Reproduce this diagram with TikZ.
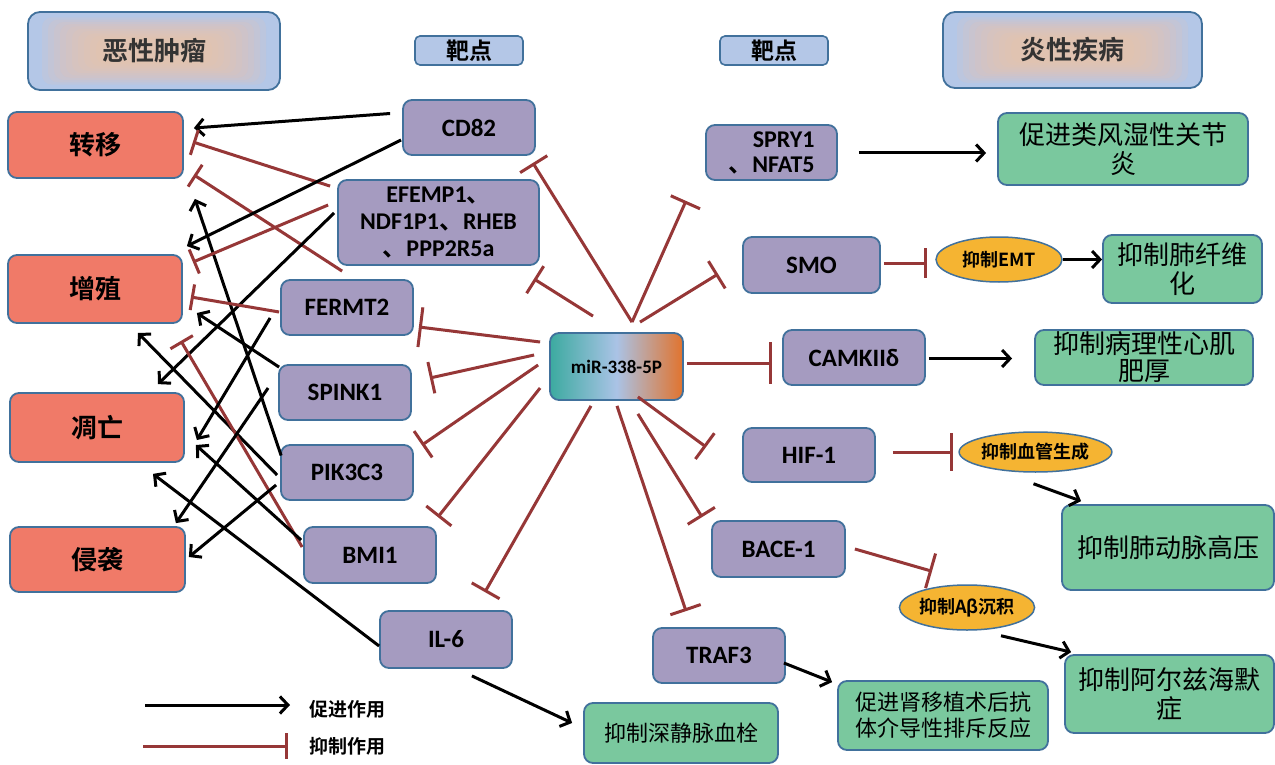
\documentclass[tikz,border=0pt]{standalone}
\usepackage{fontspec}
\setmainfont{Carlito}
\newfontfamily\cjk{Noto Sans CJK SC}[BoldFont={Noto Sans CJK SC Bold}]
\usetikzlibrary{arrows.meta,calc,shapes.geometric}
\definecolor{bd}{HTML}{41719C}
\definecolor{pur}{HTML}{A59BC0}
\definecolor{sal}{HTML}{F07A68}
\definecolor{grn}{HTML}{7AC89E}
\definecolor{org}{HTML}{F5B432}
\definecolor{inr}{HTML}{963737}
\definecolor{hblue}{HTML}{B4C7E7}
\definecolor{peach}{HTML}{F3C3A3}
\definecolor{teal}{HTML}{3CAAA0}
\definecolor{lblue}{HTML}{AAC3E6}
\definecolor{orng}{HTML}{E1732D}
\newcommand\mydun{{\cjk\bfseries 、}}
\tikzset{
  box/.style={draw=bd, line width=1.8pt, rounded corners=9pt, inner sep=2pt, align=center},
  tgtbox/.style={box, fill=pur, font=\bfseries\fontsize{25}{28}\selectfont},
  resbox/.style={box, fill=sal, font=\cjk\bfseries\fontsize{26}{30}\selectfont},
  greenbox/.style={box, fill=grn, font=\cjk\fontsize{26}{29}\selectfont},
  hdrbox/.style={draw=bd, line width=1.8pt, rounded corners=12pt, font=\cjk\bfseries\fontsize{26}{30}\selectfont, text=black!80},
  hdrlayer/.style={fill=peach, opacity=0.13, rounded corners=10pt},
  labbox/.style={draw=bd, line width=1.6pt, rounded corners=5pt, fill=hblue, font=\cjk\bfseries\fontsize{23}{26}\selectfont},
  ellbox/.style={ellipse, draw=bd, line width=1.5pt, fill=org, inner sep=0pt, font=\cjk\bfseries\fontsize{18}{20}\selectfont},
  pro/.style={draw=black, line width=3pt, -{Straight Barb[length=8pt,width=17pt]}},
  inh/.style={draw=inr, line width=3pt, -{Bar[width=#1]}},
  inh/.default=32pt,
  legtext/.style={anchor=west, font=\cjk\bfseries\fontsize{19}{22}\selectfont}
}
\begin{document}
\begin{tikzpicture}[x=1pt,y=-1pt]
\useasboundingbox (0,0) rectangle (1275,765);
\fill[white] (0,0) rectangle (1275,765);

% header shading (blue edges, peach centre)
\fill[hblue, rounded corners=12pt] (28,12) rectangle (280,90);
\foreach \i in {1,...,10}
  \fill[hdrlayer] ({28+8+6*\i},{12+3+2.3*\i}) rectangle ({280-8-6*\i},{90-3-2.3*\i});
\fill[hblue, rounded corners=12pt] (943,12) rectangle (1202,88);
\foreach \i in {1,...,10}
  \fill[hdrlayer] ({943+8+6*\i},{12+3+2.2*\i}) rectangle ({1202-8-6*\i},{88-3-2.2*\i});

% headers
\node[hdrbox, minimum width=252, minimum height=78] (hdrL) at (154,51) {恶性肿瘤};
\node[hdrbox, minimum width=259, minimum height=76] (hdrR) at (1072.5,50) {炎性疾病};
\node[labbox, minimum width=108, minimum height=29, inner sep=0pt] (labL) at (469,50.5) {靶点};
\node[labbox, minimum width=108, minimum height=29, inner sep=0pt] (labR) at (774,50.5) {靶点};

% result boxes (left)
\node[resbox, minimum width=175, minimum height=66] (zy) at (95.5,145) {转移};
\node[resbox, minimum width=174, minimum height=68] (zz) at (95,289) {增殖};
\node[resbox, minimum width=174, minimum height=69] (dw) at (97,427.5) {凋亡};
\node[resbox, minimum width=175, minimum height=65] (qx) at (97.5,559.5) {侵袭};

% targets
\node[tgtbox, minimum width=132, minimum height=55] (cd82) at (469,127.5) {CD82};
\node[tgtbox, minimum width=201, minimum height=85, font=\bfseries\fontsize{24}{27}\selectfont] (efemp) at (438.5,222.5) {EFEMP1\mydun\\NDF1P1\mydun RHEB\\\mydun PPP2R5a};
\node[tgtbox, minimum width=132, minimum height=55] (fermt2) at (347,307.5) {FERMT2};
\node[tgtbox, minimum width=132, minimum height=55] (spink1) at (345,392.5) {SPINK1};
\node[tgtbox, minimum width=132, minimum height=55] (pik3c3) at (347,472.5) {PIK3C3};
\node[tgtbox, minimum width=132, minimum height=56] (bmi1) at (370,555) {BMI1};
\node[tgtbox, minimum width=132, minimum height=57] (il6) at (446,639.5) {IL-6};

\node[box, minimum width=133, minimum height=67, left color=teal, right color=orng, middle color=lblue, font=\bfseries\fontsize{19}{22}\selectfont] (mir) at (616.5,366.5) {miR-338-5P};

\node[tgtbox, minimum width=131, minimum height=55, align=right, inner sep=0pt, font=\bfseries\fontsize{24}{25}\selectfont] (spry) at (771.5,152.5) {SPRY1\\\mydun NFAT5};
\node[tgtbox, minimum width=137, minimum height=56] (smo) at (811.5,265) {SMO};
\node[tgtbox, minimum width=142, minimum height=55] (camk) at (854,357.5) {CAMKIIδ};
\node[tgtbox, minimum width=132, minimum height=54] (hif) at (809,455) {HIF-1};
\node[tgtbox, minimum width=133, minimum height=56] (bace) at (778.5,549) {BACE-1};
\node[tgtbox, minimum width=132, minimum height=55] (traf3) at (719,655.5) {TRAF3};

% outcomes right
\node[greenbox, minimum width=250, minimum height=72] (ra) at (1123,149) {促进类风湿性关节\\炎};
\node[ellbox, minimum width=126, minimum height=45] (emt) at (999,259.5) {抑制EMT};
\node[greenbox, minimum width=159, minimum height=68] (lung) at (1182.5,269) {抑制肺纤维\\化};
\node[greenbox, minimum width=218, minimum height=55, inner sep=0pt, font=\cjk\fontsize{26}{27}\selectfont] (heart) at (1144,357.5) {抑制病理性心肌\\肥厚};
\node[ellbox, minimum width=139, minimum height=40] (angio) at (1035.5,452) {抑制血管生成};
\node[greenbox, minimum width=212, minimum height=85] (pah) at (1168,547.5) {抑制肺动脉高压};
\node[ellbox, minimum width=126, minimum height=45] (abeta) at (967,607.5) {抑制Aβ沉积};
\node[greenbox, minimum width=209, minimum height=78] (alz) at (1169.5,694) {抑制阿尔兹海默\\症};
\node[greenbox, minimum width=210, minimum height=69, font=\cjk\fontsize{22}{26}\selectfont] (kidney) at (943,715.5) {促进肾移植术后抗\\体介导性排斥反应};
\node[greenbox, minimum width=194, minimum height=60, font=\cjk\fontsize{22}{26}\selectfont] (dvt) at (681,733) {抑制深静脉血栓};

% left connectors
\draw[pro] ($(cd82.west)+(-12,-14)$) -- ($(zy.east)+(10,-17)$);
\draw[inh=26pt] ($(efemp.north west)+(-7,7)$) -- ($(zy.east)+(9,-3)$);
\draw[inh=26pt] ($(fermt2.north west)+(62,-8)$) -- ($(zy.south east)+(10,-4)$);
\draw[pro] ($(pik3c3.west)+(1,-17)$) -- ($(zy.south east)+(11,20)$);
\draw[pro] ($(cd82.west)+(-1,12.5)$) -- ($(zz.north east)+(4,-8)$);
\draw[inh=26pt] ($(efemp.west)+(-9,-17.5)$) -- ($(zz.north east)+(10,8)$);
\draw[pro] ($(efemp.west)+(-3,-9.5)$) -- ($(dw.north east)+(-27,-8)$);
\draw[inh=26pt] ($(fermt2.west)+(-1,4.5)$) -- ($(zz.east)+(8,8)$);
\draw[pro] ($(spink1.north west)+(1,3)$) -- ($(zz.east)+(14,24)$);
\draw[pro] ($(pik3c3.west)+(-3,2.5)$) -- ($(zz.south)+(43,9)$);
\draw[inh=26pt] ($(bmi1.west)+(-1,-8)$) -- ($(zz.south east)+(-2,17)$);
\draw[pro] ($(fermt2.west)+(-10,10.5)$) -- ($(dw.east)+(12,12.5)$);
\draw[pro] ($(bmi1.west)+(-2,-15)$) -- ($(dw.east)+(11,17.5)$);
\draw[pro] ($(il6.west)+(0,6.5)$) -- ($(dw.south)+(56,11)$);
\draw[pro] ($(spink1.west)+(-10,-4.5)$) -- ($(qx.north east)+(-10,-3)$);
\draw[pro] ($(pik3c3.west)+(-4,12.5)$) -- ($(qx.east)+(3,-2.5)$);

% miR inhibitions
\draw[inh=40pt] ($(mir.west)+(-9,-24.5)$) -- ($(fermt2.east)+(5,19.5)$);
\draw[inh] ($(mir.west)+(-15,-11.5)$) -- ($(spink1.east)+(18,-14.5)$);
\draw[inh] ($(mir.west)+(-11,-1.5)$) -- ($(pik3c3.north east)+(8,1)$);
\draw[inh] ($(mir.west)+(-9,21.5)$) -- ($(bmi1.north east)+(1,-9)$);
\draw[inh] ($(mir.south)+(-25.5,5)$) -- ($(il6.north east)+(-28,-18)$);
\draw[inh] ($(mir.north)+(15.5,-10)$) -- ($(cd82.south east)+(-3,7)$);
\draw[inh] ($(mir.north)+(-23.5,-16)$) -- ($(efemp.south east)+(-6,13)$);
\draw[inh] ($(mir.north)+(15.5,-10)$) -- ($(spry.south)+(-85.5,20)$);
\draw[inh] ($(mir.north)+(23.5,-10)$) -- ($(smo.west)+(-24,9)$);
\draw[inh=42pt] ($(mir.east)+(3,-3.5)$) -- ($(camk.west)+(-10,5.5)$);
\draw[inh] ($(mir.south east)+(-46,-4)$) -- ($(hif.west)+(-36,-8)$);
\draw[inh] ($(mir.south east)+(-46,13)$) -- ($(bace.north west)+(-9,-3)$);
\draw[inh] ($(mir.south)+(0.5,5)$) -- ($(traf3.north)+(-33,-16)$);

% right side
\draw[pro] ($(spry.east)+(21,0.5)$) -- ($(ra.west)+(-11,4)$);
\draw[inh=30pt] ($(smo.east)+(3,-2)$) -- ($(emt.west)+(-8,3.5)$);
\draw[pro] (emt.east) -- (emt.east -| lung.west);
\draw[pro] ($(camk.east)+(3,1)$) -- ($(heart.west)+(-22,1)$);
\draw[inh=38pt] ($(hif.east)+(17,-3)$) -- ($(angio.west)+(-5,0)$);
\draw[pro] ($(angio.south)+(-2,11)$) -- ($(pah.north west)+(20,-3)$);
\draw[inh=36pt] ($(bace.east)+(9,0)$) -- ($(abeta.north)+(-35,-13)$);
\draw[pro] ($(abeta.south)+(34,5)$) -- ($(alz.north west)+(7,-2)$);
\draw[pro] ($(traf3.east)+(-2,7.5)$) -- ($(kidney.north west)+(-5,2)$);
\draw[pro] ($(il6.south east)+(-41,7)$) -- ($(dvt.west)+(-11,-10)$);

% legend
\coordinate (la1) at (145,705);
\coordinate (la2) at (290,705);
\coordinate (lb1) at (143,746);
\coordinate (lb2) at (288,746);
\draw[pro] (la1) -- (la2);
\draw[inh=26pt] (lb1) -- (lb2);
\node[legtext] (lgt1) at (306,709) {促进作用};
\node[legtext] (lgt2) at (306,746) {抑制作用};
\end{tikzpicture}
\end{document}
